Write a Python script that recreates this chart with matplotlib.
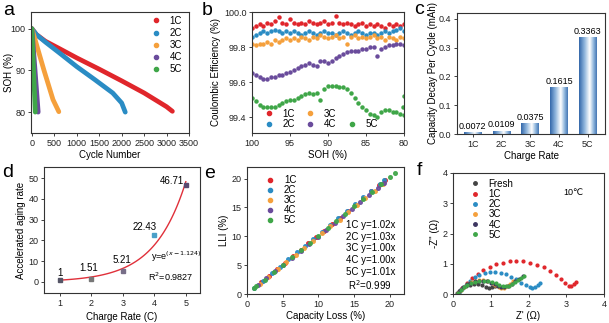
import matplotlib
matplotlib.use('Agg')
import matplotlib.pyplot as plt
import numpy as np
from matplotlib.lines import Line2D
from matplotlib.colors import LinearSegmentedColormap

plt.rcParams['font.family'] = ['Liberation Sans', 'DejaVu Sans']
plt.rcParams['font.size'] = 6.5
plt.rcParams['axes.linewidth'] = 0.8
plt.rcParams['xtick.major.size'] = 2.5
plt.rcParams['ytick.major.size'] = 2.5
plt.rcParams['xtick.major.pad'] = 1.5
plt.rcParams['ytick.major.pad'] = 1.5

rates = ['1C', '2C', '3C', '4C', '5C']
colors = ['#e0262b', '#2a8cc4', '#f5a03c', '#6a4c9c', '#3fa648']

# (a) SOH vs cycle number
cyc_a = {
    '1C': [0, 100, 300, 600, 1000, 1500, 2000, 2500, 3000, 3130],
    '2C': [0, 100, 300, 600, 1000, 1400, 1800, 2000, 2080],
    '3C': [0, 100, 270, 470, 600],
    '4C': [0, 140],
    '5C': [0, 75],
}
soh_a = {
    '1C': [100, 98.6, 97.0, 95.3, 93.0, 90.3, 87.5, 84.6, 81.3, 80.2],
    '2C': [100, 98.6, 96.8, 94.3, 90.9, 87.8, 84.6, 82.2, 80.0],
    '3C': [100, 96.3, 90.0, 83.0, 80.1],
    '4C': [100, 80.0],
    '5C': [100, 80.0],
}

# (b) coulombic efficiency vs SOH
soh_b = [100.0, 99.5, 99.0, 98.5, 98.0, 97.5, 97.0, 96.5, 96.0, 95.5, 95.0,
         94.5, 94.0, 93.5, 93.0, 92.5, 92.0, 91.5, 91.0, 90.5, 90.0, 89.5,
         89.0, 88.5, 88.0, 87.5, 87.0, 86.5, 86.0, 85.5, 85.0, 84.5, 84.0,
         83.5, 83.0, 82.5, 82.0, 81.5, 81.0, 80.5, 80.0]
ce_b = {
    '1C': [99.91, 99.92, 99.93, 99.92, 99.94, 99.93, 99.95, 99.97, 99.94, 99.93,
           99.96, 99.94, 99.93, 99.94, 99.93, 99.95, 99.94, 99.93, 99.94, 99.95,
           99.93, 99.94, 99.98, 99.94, 99.93, 99.94, 99.93, 99.92, 99.93, 99.94,
           99.92, 99.93, 99.92, 99.93, 99.92, 99.91, 99.93, 99.92, 99.93, 99.92, 99.93],
    '2C': [99.86, 99.87, 99.88, 99.89, 99.88, 99.89, 99.90, 99.89, 99.88, 99.89,
           99.88, 99.89, 99.88, 99.87, 99.88, 99.89, 99.88, 99.87, 99.88, 99.89,
           99.88, 99.88, 99.87, 99.88, 99.89, 99.88, 99.87, 99.88, 99.89, 99.88,
           99.87, 99.88, 99.88, 99.87, 99.88, 99.89, 99.88, 99.89, 99.90, 99.91, 99.89],
    '3C': [99.82, 99.81, 99.82, 99.82, 99.83, 99.82, 99.84, 99.83, 99.84, 99.85,
           99.84, 99.85, 99.84, 99.86, 99.85, 99.84, 99.86, 99.85, 99.87, 99.86,
           99.85, 99.86, 99.87, 99.85, 99.86, 99.82, 99.86, 99.87, 99.85, 99.86,
           99.85, 99.86, 99.87, 99.85, 99.86, 99.84, 99.86, 99.85, 99.84, 99.86, 99.85],
    '4C': [99.65, 99.64, 99.63, 99.62, 99.62, 99.63, 99.63, 99.64, 99.64, 99.65,
           99.66, 99.67, 99.68, 99.69, 99.70, 99.71, 99.70, 99.69, 99.72, 99.72,
           99.71, 99.72, 99.74, 99.75, 99.76, 99.77, 99.78, 99.78, 99.78, 99.79,
           99.79, 99.80, 99.80, 99.75, 99.79, 99.80, 99.81, 99.81, 99.82, 99.82, 99.81],
    '5C': [99.51, 99.49, 99.47, 99.46, 99.46, 99.46, 99.46, 99.47, 99.48, 99.49,
           99.50, 99.50, 99.51, 99.52, 99.53, 99.54, 99.53, 99.54, 99.50, 99.56,
           99.58, 99.58, 99.58, 99.57, 99.57, 99.56, 99.54, 99.51, 99.48, 99.46,
           99.44, 99.42, 99.41, 99.40, 99.43, 99.44, 99.44, 99.43, 99.43, 99.42, 99.41],
}
soh_b_extra = [80.1, 80.0]
ce_b5_extra = [99.46, 99.52]

# (c) capacity decay per cycle
decay = [0.0072, 0.0109, 0.0375, 0.1615, 0.3363]

# (d) accelerated aging rate
rate_d = [1, 2, 3, 4, 5]
aging = [1, 1.51, 5.21, 22.43, 46.71]
aging_labels = ['1', '1.51', '5.21', '22.43', '46.71']
aging_colors = ['#555566', '#777777', '#776e88', '#4aa0c8', '#5a4a70']
fit_shift = 1.124

# (e) LLI vs capacity loss
loss_e = {
    '1C': [2.0, 3.1, 4.2, 5.3, 6.4, 7.5, 8.6, 9.7, 10.8, 11.9, 13.0, 14.1, 15.2, 16.3, 17.4, 18.5, 19.4],
    '2C': [1.0, 2.2, 3.5, 4.6, 5.8, 7.0, 8.1, 9.3, 10.5, 11.6, 12.8, 14.0, 15.1, 16.3, 17.4, 18.6, 19.2],
    '3C': [1.8, 3.0, 4.3, 5.5, 6.8, 8.0, 9.2, 10.5, 11.7, 13.0, 14.2, 15.4, 16.6, 17.9, 19.0],
    '4C': [1.5, 2.7, 3.9, 5.1, 6.3, 7.5, 8.7, 9.9, 11.1, 12.3, 13.5, 14.7, 15.9, 17.1, 18.3, 19.2],
    '5C': [1.0, 1.3, 2.5, 3.8, 5.0, 6.3, 7.5, 8.8, 10.0, 11.3, 12.5, 13.8, 15.0, 16.3, 17.5, 18.8, 20.0, 20.7],
}
lli_e = {
    '1C': [2.1, 3.1, 4.3, 5.4, 6.5, 7.7, 8.8, 9.9, 11.0, 12.2, 13.2, 14.4, 15.5, 16.6, 17.8, 18.9, 19.8],
    '2C': [1.0, 2.3, 3.6, 4.7, 6.0, 7.2, 8.3, 9.6, 10.8, 12.0, 13.2, 14.4, 15.6, 16.8, 17.9, 19.1, 19.8],
    '3C': [1.8, 3.0, 4.3, 5.5, 6.7, 8.0, 9.2, 10.5, 11.7, 12.9, 14.2, 15.4, 16.6, 17.8, 19.0],
    '4C': [1.5, 2.8, 3.9, 5.1, 6.3, 7.5, 8.7, 9.9, 11.1, 12.3, 13.5, 14.7, 15.9, 17.1, 18.3, 19.2],
    '5C': [1.0, 1.4, 2.5, 3.8, 5.1, 6.4, 7.6, 8.9, 10.1, 11.4, 12.6, 13.9, 15.2, 16.5, 17.7, 19.0, 20.2, 20.9],
}
slopes = ['1.02', '1.03', '1.00', '1.00', '1.01']

# (f) Nyquist plots
eis_names = ['Fresh', '1C', '2C', '3C', '4C', '5C']
eis_colors = ['#444444', '#e0262b', '#2a8cc4', '#f5a03c', '#3d3560', '#3fa648']
zre = {
    'Fresh': [0.1, 0.17, 0.25, 0.34, 0.44, 0.55, 0.66, 0.77, 0.87, 0.96, 1.04, 1.12],
    '1C': [0.15, 0.25, 0.37, 0.5, 0.65, 0.8, 0.97, 1.14, 1.32, 1.5, 1.68, 1.86, 2.04,
           2.22, 2.4, 2.57, 2.73, 2.87, 2.98, 3.07, 3.13, 3.2, 3.27],
    '2C': [0.15, 0.24, 0.34, 0.45, 0.57, 0.7, 0.84, 0.98, 1.12, 1.26, 1.4, 1.54, 1.68,
           1.81, 1.93, 2.03, 2.1, 2.17, 2.24, 2.31],
    '3C': [0.13, 0.2, 0.28, 0.37, 0.47, 0.58, 0.69, 0.8, 0.91, 1.02, 1.12, 1.21, 1.28,
           1.35, 1.42, 1.5, 1.58],
    '4C': [0.12, 0.19, 0.27, 0.36, 0.46, 0.57, 0.68, 0.79, 0.9, 1.01, 1.11, 1.2, 1.28,
           1.36, 1.45, 1.55, 1.65, 1.75, 1.85],
    '5C': [0.14, 0.21, 0.29, 0.38, 0.48, 0.59, 0.7, 0.81, 0.92, 1.03, 1.13, 1.23, 1.32,
           1.4, 1.48, 1.56, 1.64, 1.72, 1.8, 1.87],
}
zim = {
    'Fresh': [0.02, 0.11, 0.2, 0.27, 0.31, 0.33, 0.32, 0.29, 0.24, 0.2, 0.22, 0.28],
    '1C': [0.05, 0.2, 0.36, 0.52, 0.66, 0.79, 0.9, 0.98, 1.04, 1.08, 1.09, 1.08, 1.04,
           0.97, 0.88, 0.77, 0.63, 0.49, 0.37, 0.28, 0.27, 0.32, 0.40],
    '2C': [0.03, 0.16, 0.3, 0.43, 0.55, 0.64, 0.7, 0.73, 0.73, 0.7, 0.65, 0.57, 0.48,
           0.38, 0.29, 0.22, 0.2, 0.24, 0.31, 0.38],
    '3C': [0.02, 0.13, 0.24, 0.33, 0.39, 0.43, 0.45, 0.45, 0.42, 0.37, 0.3, 0.23, 0.19,
           0.2, 0.26, 0.34, 0.42],
    '4C': [0.02, 0.12, 0.23, 0.32, 0.38, 0.42, 0.44, 0.44, 0.42, 0.38, 0.33, 0.27, 0.23,
           0.22, 0.26, 0.33, 0.42, 0.51, 0.6],
    '5C': [0.02, 0.12, 0.22, 0.31, 0.37, 0.41, 0.43, 0.44, 0.43, 0.4, 0.36, 0.31, 0.27,
           0.26, 0.27, 0.32, 0.39, 0.46, 0.53, 0.59],
}

W, H = 609, 323
fig = plt.figure(figsize=(W / 100, H / 100), dpi=100)


def box(l, t, r, b):
    ax = fig.add_axes([l / W, 1 - b / H, (r - l) / W, (b - t) / H])
    for s in ax.spines.values():
        s.set_color('#333333')
    ax.tick_params(colors='#222222', width=0.6)
    return ax


def letter(x, y, s):
    fig.text(x / W, 1 - y / H, s, fontsize=14, va='baseline')


def dot(c, ms=3):
    return Line2D([], [], ls='none', marker='o', ms=ms, color=c)


# ---- a ----
ax = box(31, 12, 189, 133)
for r, c in zip(rates, colors):
    ax.plot(cyc_a[r], soh_a[r], color=c, lw=3.4, solid_capstyle='round')
ax.set_xlim(-20, 3500)
ax.set_ylim(75, 104)
ax.set_xticks(range(0, 3501, 500))
ax.set_yticks([80, 90, 100])
ax.set_xlabel('Cycle Number', fontsize=7, labelpad=2)
ax.set_ylabel('SOH (%)', fontsize=7)
ax.yaxis.set_label_coords(-0.11, 0.5)
ax.legend([dot(c) for c in colors], rates, loc='upper right', frameon=False,
          fontsize=7, handlelength=0.8, handletextpad=1.0, labelspacing=0.22,
          borderaxespad=0.0, bbox_to_anchor=(0.98, 1.0))
letter(3, 15, 'a')

# ---- b ----
ax = box(252, 12, 404, 133)
for r, c in zip(rates, colors):
    ax.plot(soh_b, ce_b[r], 'o', ms=2.2, color=c, ls='none')
ax.plot(soh_b_extra, ce_b5_extra, 'o', ms=2.2, color=colors[4], ls='none')
ax.set_xlim(100, 80)
ax.set_ylim(99.31, 100.0)
ax.set_xticks([100, 95, 90, 85, 80])
ax.set_yticks([99.4, 99.6, 99.8, 100.0])
ax.set_yticklabels(['99.4', '99.6', '99.8', '100.0'])
ax.set_xlabel('SOH (%)', fontsize=7, labelpad=2)
ax.set_ylabel('Coulombic Efficiency (%)', fontsize=7, labelpad=2)
hb = [dot(c) for c in colors[:4]] + [Line2D([], [], ls='none')] + [dot(colors[4])]
lb = rates[:4] + [''] + [rates[4]]
ax.legend(hb, lb, ncol=3, loc='lower left', frameon=False, fontsize=7,
          handlelength=0.8, handletextpad=1.0, labelspacing=0.05,
          columnspacing=1.2, borderaxespad=0.0, bbox_to_anchor=(0.06, 0.0))
letter(202, 15, 'b')

# ---- c ----
ax = box(457, 13, 605, 134)
xc = np.arange(1, len(decay) + 1)
bw = 0.62
cmap = LinearSegmentedColormap.from_list('cyl', ['#3468aa', '#8db4dc', '#ffffff'])
t = np.linspace(0, 1, 64)
prof = np.where(t < 0.6, 1 - t / 0.6, (t - 0.6) / 0.4 * 0.9)
grad = (1 - prof)[None, :]
bars = ax.bar(xc, decay, width=bw, color='none', edgecolor='none')
for b in bars:
    x0, h = b.get_x(), b.get_height()
    im = ax.imshow(grad, cmap=cmap, vmin=0, vmax=1, aspect='auto',
                   extent=[x0, x0 + bw, 0, h], zorder=2)
    im.set_clip_path(b)
for x, v in zip(xc, decay):
    ax.annotate(f'{v:.4f}', (x, v), xytext=(0, 1.0), textcoords='offset points',
                ha='center', va='bottom', fontsize=6.5)
ax.set_xlim(0.45, 5.6)
ax.set_ylim(0, 0.42)
ax.set_xticks(xc)
ax.set_xticklabels(rates)
ax.set_yticks([0.0, 0.1, 0.2, 0.3, 0.4])
ax.set_xlabel('Charge Rate', fontsize=7, labelpad=2)
ax.set_ylabel('Capacity Decay Per Cycle (mAh)', fontsize=7, labelpad=1)
letter(414, 14, 'c')

# ---- d ----
ax = box(44, 167, 200, 293)
xf = np.linspace(1, 5, 100)
ax.plot(xf, np.exp(xf - fit_shift), color='#e0303a', lw=1.0)
for x, v, c in zip(rate_d, aging, aging_colors):
    ax.plot(x, v, 's', ms=2.3, color=c)
lab_pos = [(1.0, 4.5), (1.93, 6.5), (2.97, 10.5), (3.68, 26.5), (4.55, 48.5)]
for s, (x, y) in zip(aging_labels, lab_pos):
    ax.text(x, y, s, ha='center', va='center', fontsize=7)
ax.text(3.88, 12, r'y=e$^{(x-1.124)}$', fontsize=6.5, va='center')
ax.text(3.8, 2.4, r'R$^2$=0.9827', fontsize=6.5, va='center')
ax.set_xlim(0.5, 5.45)
ax.set_ylim(-5.3, 55.3)
ax.set_xticks(rate_d)
ax.set_yticks(range(0, 51, 10))
ax.set_xlabel('Charge Rate (C)', fontsize=7, labelpad=3)
ax.set_ylabel('Accelerated aging rate', fontsize=7, labelpad=2)
letter(2, 177, 'd')

# ---- e ----
ax = box(247, 167, 404, 294)
for r, c in zip(rates, colors):
    ax.plot(loss_e[r], lli_e[r], 'o', ms=2.6, color=c, ls='none', alpha=0.9)
ax.set_xlim(0, 22)
ax.set_ylim(0, 22)
ax.set_xticks([0, 5, 10, 15, 20])
ax.set_yticks([0, 5, 10, 15, 20])
ax.set_xlabel('Capacity Loss (%)', fontsize=7, labelpad=2)
ax.set_ylabel('LLI (%)', fontsize=7, labelpad=2)
ax.legend([dot(c) for c in colors], rates, loc='upper left', frameon=False,
          fontsize=7, handlelength=0.8, handletextpad=1.0, labelspacing=0.0,
          borderaxespad=0.3, bbox_to_anchor=(0.08, 0.99))
ys = [0.543, 0.451, 0.362, 0.268, 0.173]
for r, s, y in zip(rates, slopes, ys):
    ax.text(0.63, y, f'{r} y={s}x', transform=ax.transAxes, fontsize=7, va='center')
ax.text(0.645, 0.071, r'R$^2$=0.999', transform=ax.transAxes, fontsize=7, va='center')
letter(204, 178, 'e')

# ---- f ----
ax = box(453, 173, 604, 294)
for n, c in zip(eis_names, eis_colors):
    ax.plot(zre[n], zim[n], 'o', ms=2.0, color=c, ls='none')
ax.set_xlim(0, 4)
ax.set_ylim(0, 4)
ax.set_xticks(range(5))
ax.set_yticks(range(5))
ax.set_xlabel("Z' (\u03a9)", fontsize=7, labelpad=2)
ax.set_ylabel("-Z'' (\u03a9)", fontsize=7, labelpad=2)
ax.legend([dot(c, 2.5) for c in eis_colors], eis_names, loc='upper left', frameon=False,
          fontsize=7, handlelength=0.8, handletextpad=1.0, labelspacing=0.02,
          borderaxespad=0.2, bbox_to_anchor=(0.08, 1.0))
ax.text(3.18, 3.34, '10\u2103', fontsize=6.5, ha='center', va='center',
        family=['Liberation Sans', 'DejaVu Sans', 'Noto Sans CJK SC'])
letter(417, 175, 'f')

fig.savefig('out.png', dpi=100)
